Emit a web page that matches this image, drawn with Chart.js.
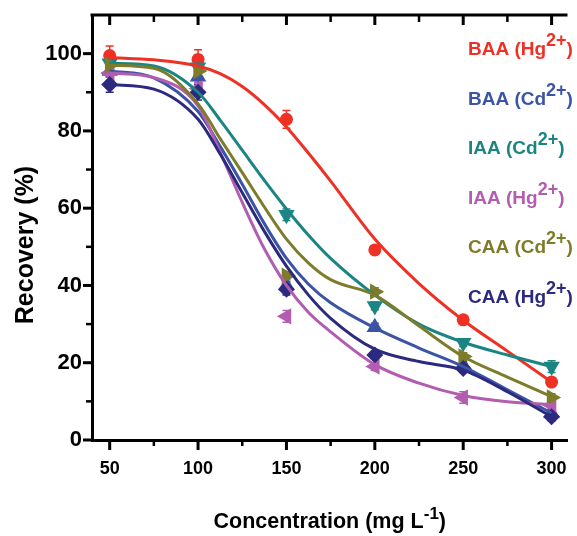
<!DOCTYPE html>
<html>
<head>
<meta charset="utf-8">
<script src="https://cdn.jsdelivr.net/npm/chart.js@4.4.1/dist/chart.umd.min.js"></script>
<style>
  html, body { margin: 0; padding: 0; background: #fff; }
</style>
</head>
<body>
<canvas id="chart" width="577" height="536"></canvas>
<script>
// measured points (concentration, mg/L)
const concX = [50, 100, 150, 200, 250, 300];
const recBAA_Hg = [99.5, 98.5, 83, 49.2, 31.1, 15];
const recBAA_Cd = [95.5, 94, 40, 29.2, 19.4, 7];
const recIAA_Cd = [97.5, 96.5, 58.3, 34.7, 25.2, 19];
const recIAA_Hg = [95, 91, 32, 19, 11, 9];
const recCAA_Cd = [97, 95.5, 42.5, 38.4, 21.6, 11];
const recCAA_Hg = [92, 90, 39, 22, 18.5, 6];

const errBAA_Hg = [2.5, 2.5, 2.3, 1, 1, 1];
const errBAA_Cd = [1.2, 1.5, 1, 1, 1, 1];
const errIAA_Cd = [1.2, 1.5, 1.5, 1, 1, 1.5];
const errIAA_Hg = [1, 1.5, 1.5, 1, 1.5, 1];
const errCAA_Cd = [1, 1.5, 1, 1, 1, 1];
const errCAA_Hg = [2, 2, 1.5, 1, 1, 1];

// fitted curves
const curveX = [50, 75, 100, 112.5, 125, 137.5, 150, 162.5, 175, 200, 225, 250, 275, 300];
const fitBAA_Hg = [99.0, 98.4, 96.8, 94.8, 91.5, 86.8, 81.0, 74.2, 67.0, 52.0, 40.5, 31.0, 23.0, 15.0];
const fitBAA_Cd = [95.5, 93.7, 85.0, 76.0, 66.2, 56.0, 47.0, 40.3, 35.5, 29.0, 23.8, 19.0, 13.0, 7.0];
const fitIAA_Cd = [97.5, 96.8, 90.0, 82.8, 75.0, 67.2, 59.8, 53.0, 47.0, 37.5, 30.0, 25.3, 22.0, 19.0];
const fitIAA_Hg = [95.0, 93.8, 86.5, 74.5, 61.5, 49.5, 40.0, 33.0, 28.0, 19.5, 14.7, 11.5, 9.9, 9.2];
const fitCAA_Cd = [97.0, 96.2, 87.0, 78.0, 69.2, 60.3, 52.0, 45.8, 41.5, 37.5, 29.5, 21.6, 16.3, 11.2];
const fitCAA_Hg = [92.0, 90.8, 83.0, 74.0, 64.0, 54.0, 45.0, 37.5, 31.5, 23.5, 20.3, 18.1, 12.5, 6.0];

const legendBase = ['BAA (Hg', 'BAA (Cd', 'IAA (Cd', 'IAA (Hg', 'CAA (Cd', 'CAA (Hg'];
const legendSup = ['2+', '2+', '2+', '2+', '2+', '2+'];

const xTicks = [50, 100, 150, 200, 250, 300];
const xMinorTicks = [75, 125, 175, 225, 275];
const yTicks = [0, 20, 40, 60, 80, 100];
const yMinorTicks = [10, 30, 50, 70, 90];

const FONT = '"Liberation Sans", Arial, sans-serif';

const series = [
  { pts: recBAA_Hg, err: errBAA_Hg, fit: fitBAA_Hg, color: '#ee3124', style: 'circle', rot: 0, r: 6.5 },
  { pts: recBAA_Cd, err: errBAA_Cd, fit: fitBAA_Cd, color: '#3b54a5', style: 'triangle', rot: 0, r: 9.5 },
  { pts: recIAA_Cd, err: errIAA_Cd, fit: fitIAA_Cd, color: '#1b8583', style: 'triangle', rot: 180, r: 9.5 },
  { pts: recIAA_Hg, err: errIAA_Hg, fit: fitIAA_Hg, color: '#b35db1', style: 'triangle', rot: 270, r: 9.5 },
  { pts: recCAA_Cd, err: errCAA_Cd, fit: fitCAA_Cd, color: '#7d7c2b', style: 'triangle', rot: 90, r: 9.5 },
  { pts: recCAA_Hg, err: errCAA_Hg, fit: fitCAA_Hg, color: '#2c2a7e', style: 'rectRot', rot: 0, r: 8.5 },
];

const datasets = [];
series.forEach((s, i) => {
  datasets.push({
    type: 'scatter',
    label: legendBase[i] + legendSup[i] + ')',
    data: concX.map((x, k) => ({ x, y: s.pts[k] })),
    errors: s.err,
    backgroundColor: s.color,
    borderColor: s.color,
    borderWidth: 0,
    pointStyle: s.style,
    rotation: s.rot,
    pointRadius: s.r,
    order: 20 - i,
  });
});
series.forEach((s, i) => {
  datasets.push({
    type: 'line',
    label: 'fit ' + i,
    data: curveX.map((x, k) => ({ x, y: s.fit[k] })),
    borderColor: s.color,
    borderWidth: 3,
    pointRadius: 0,
    fill: false,
    cubicInterpolationMode: 'monotone',
    order: 10 - i,
  });
});

const errorBars = {
  id: 'errorBars',
  beforeDatasetsDraw(chart) {
    const { ctx, scales: { x, y } } = chart;
    ctx.save();
    chart.data.datasets.forEach(ds => {
      if (!ds.errors) return;
      ctx.strokeStyle = ds.borderColor;
      ctx.lineWidth = 1.5;
      ds.data.forEach((p, k) => {
        const px = x.getPixelForValue(p.x);
        const y1 = y.getPixelForValue(p.y + ds.errors[k]);
        const y2 = y.getPixelForValue(p.y - ds.errors[k]);
        ctx.beginPath();
        ctx.moveTo(px, y1); ctx.lineTo(px, y2);
        ctx.moveTo(px - 4, y1); ctx.lineTo(px + 4, y1);
        ctx.moveTo(px - 4, y2); ctx.lineTo(px + 4, y2);
        ctx.stroke();
      });
    });
    ctx.restore();
  }
};

function drawSup(ctx, x, y, base, sup, tail, font, supFont, rise) {
  ctx.font = font;
  ctx.fillText(base, x, y);
  x += ctx.measureText(base).width;
  ctx.font = supFont;
  ctx.fillText(sup, x, y - rise);
  x += ctx.measureText(sup).width;
  ctx.font = font;
  ctx.fillText(tail, x, y);
}

function supWidth(ctx, base, sup, tail, font, supFont) {
  ctx.font = font;
  let w = ctx.measureText(base).width + ctx.measureText(tail).width;
  ctx.font = supFont;
  return w + ctx.measureText(sup).width;
}

const frame = {
  id: 'frame',
  afterDraw(chart) {
    const { ctx, chartArea: a, scales: { x, y } } = chart;
    ctx.save();
    ctx.strokeStyle = '#000';
    ctx.lineWidth = 3;
    ctx.beginPath();
    ctx.moveTo(a.left - 1.5, a.top); ctx.lineTo(a.right, a.top);
    ctx.stroke();

    const tick = (x1, y1, x2, y2, w) => {
      ctx.lineWidth = w;
      ctx.beginPath(); ctx.moveTo(x1, y1); ctx.lineTo(x2, y2); ctx.stroke();
    };
    xTicks.forEach(v => {
      const px = x.getPixelForValue(v);
      tick(px, a.bottom, px, a.bottom + 10, 3);
      tick(px, a.top, px, a.top + 10, 3);
    });
    xMinorTicks.forEach(v => {
      const px = x.getPixelForValue(v);
      tick(px, a.bottom, px, a.bottom + 6, 2.5);
      tick(px, a.top, px, a.top + 7, 2.5);
    });
    yTicks.forEach(v => {
      const py = y.getPixelForValue(v);
      tick(a.left, py, a.left - 9, py, 3);
    });
    yMinorTicks.forEach(v => {
      const py = y.getPixelForValue(v);
      tick(a.left, py, a.left - 6, py, 2.5);
    });

    // legend
    ctx.textAlign = 'left';
    ctx.textBaseline = 'alphabetic';
    series.forEach((s, i) => {
      ctx.fillStyle = s.color;
      drawSup(ctx, 468, 55 + i * 49.6, legendBase[i], legendSup[i], ')',
        'bold 19px ' + FONT, 'bold 18px ' + FONT, 9);
    });

    // axis titles
    ctx.fillStyle = '#000';
    const tf = 'bold 21.5px ' + FONT, sf = 'bold 17px ' + FONT;
    const w = supWidth(ctx, 'Concentration (mg L', '-1', ')', tf, sf);
    drawSup(ctx, (a.left + a.right) / 2 - w / 2, 528, 'Concentration (mg L', '-1', ')', tf, sf, 9);

    ctx.translate(33, 245);
    ctx.rotate(-Math.PI / 2);
    ctx.textAlign = 'center';
    ctx.font = 'bold 25px ' + FONT;
    ctx.fillText('Recovery (%)', 0, 0);
    ctx.restore();
  }
};

new Chart(document.getElementById('chart'), {
  type: 'scatter',
  data: { datasets },
  options: {
    responsive: false,
    animation: false,
    devicePixelRatio: 1,
    layout: { padding: { top: 15, right: 0, left: 0, bottom: 0 } },
    plugins: { legend: { display: false }, tooltip: { enabled: false } },
    scales: {
      x: {
        type: 'linear',
        min: 40,
        max: 309,
        afterBuildTicks: s => { s.ticks = xTicks.map(value => ({ value })); },
        afterFit: s => { s.height = 96; },
        grid: { display: false, drawTicks: true, tickLength: 10 },
        border: { display: true, color: '#000', width: 3 },
        ticks: { color: '#000', padding: 8, maxRotation: 0, font: { family: FONT, size: 18, weight: 'bold' } },
      },
      y: {
        type: 'linear',
        min: 0,
        max: 110,
        afterBuildTicks: s => { s.ticks = yTicks.map(value => ({ value })); },
        afterFit: s => { s.width = 92; },
        grid: { display: false, drawTicks: true, tickLength: 9 },
        border: { display: true, color: '#000', width: 3 },
        ticks: { color: '#000', padding: 1, font: { family: FONT, size: 22, weight: 'bold' } },
      },
    },
  },
  plugins: [errorBars, frame],
});
</script>
</body>
</html>
